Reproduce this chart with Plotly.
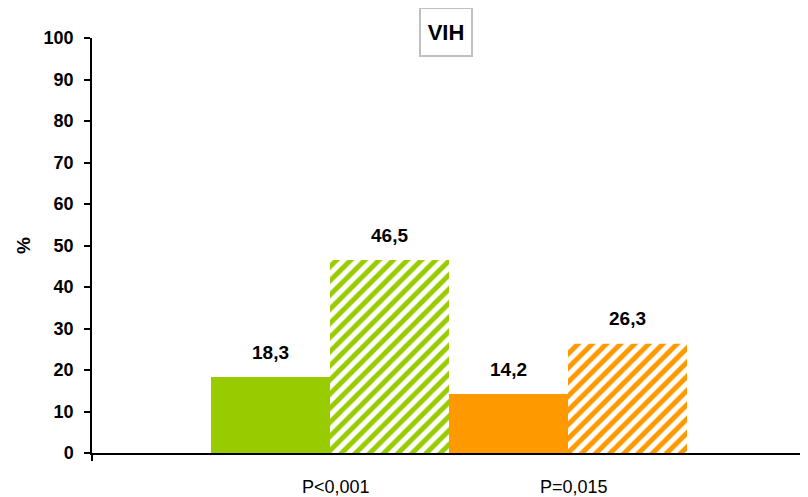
import plotly.graph_objects as go

# Data
category = ["VIH"]
series_names = ["Verde sólido", "Verde rayado", "Naranja sólido", "Naranja rayado"]
values = [18.3, 46.5, 14.2, 26.3]
value_labels = ["18,3", "46,5", "14,2", "26,3"]
group_labels = ["P<0,001", "P=0,015"]
colors = ["#99CC00", "#99CC00", "#FF9900", "#FF9900"]
striped = [False, True, False, True]
y_ticks = list(range(0, 101, 10))

FONT = "Arial, Liberation Sans, sans-serif"
BARGAP = 1 / 3

fig = go.Figure()
for name, v, c, s in zip(series_names, values, colors, striped):
    marker = dict(color=c, line=dict(width=0))
    if s:
        marker = dict(color="white", line=dict(width=0),
                      pattern=dict(shape="/", fgcolor=c, bgcolor="white", fgopacity=1,
                                   size=10, solidity=0.5, fillmode="replace"))
    fig.add_trace(go.Bar(x=category, y=[v], name=name, marker=marker,
                         showlegend=False, hoverinfo="skip"))

n = len(values)
w = (1 - BARGAP) / n
centers = [-(1 - BARGAP) / 2 + (i + 0.5) * w for i in range(n)]

annotations = []
for cx, v, lab in zip(centers, values, value_labels):
    annotations.append(dict(x=cx, y=v, xref="x", yref="y", text=f"<b>{lab}</b>",
                            showarrow=False, yshift=25, yanchor="middle",
                            font=dict(family=FONT, size=19, color="black")))
for gi, lab in enumerate(group_labels):
    gx = (centers[2 * gi] + centers[2 * gi + 1]) / 2
    annotations.append(dict(x=gx, y=0, xref="x", yref="paper", text=lab,
                            showarrow=False, yshift=-34, xshift=6, yanchor="middle",
                            font=dict(family=FONT, size=18, color="black")))
# chart title box
annotations.append(dict(x=0, y=1, xref="x", yref="paper", text="<b>VIH</b>",
                        showarrow=False, yanchor="middle", yshift=6, xshift=-3,
                        font=dict(family=FONT, size=22, color="black"),
                        bordercolor="#C0C0C0", borderwidth=2, borderpad=2,
                        width=46, height=42))
# y-axis title
annotations.append(dict(x=-0.096, y=0.5, xref="paper", yref="paper", text="<b>%</b>",
                        showarrow=False, textangle=-90, xanchor="center", yanchor="middle",
                        font=dict(family=FONT, size=19, color="black")))

fig.update_layout(
    width=800, height=489,
    margin=dict(l=84, r=2, t=30, b=44, autoexpand=False),
    paper_bgcolor="white", plot_bgcolor="white",
    barmode="group", bargap=BARGAP, bargroupgap=0,
    font=dict(family=FONT, color="black"),
    annotations=annotations,
    xaxis=dict(range=[-0.5, 0.5], showticklabels=False, ticks="outside",
               tickson="boundaries", ticklen=6, tickcolor="black", tickwidth=1.5,
               showline=True, linecolor="black", linewidth=1.5, showgrid=False,
               zeroline=False, fixedrange=True, automargin=False),
    yaxis=dict(range=[0, 100], tickvals=y_ticks, ticktext=[f"<b>{t}</b>" for t in y_ticks],
               tickfont=dict(family=FONT, size=18, color="black"),
               ticks="outside", ticklen=6, tickcolor="black", tickwidth=1.5,
               ticklabelstandoff=7,
               showline=True, linecolor="black", linewidth=1.5, showgrid=False,
               zeroline=False, automargin=False),
)

fig.write_html("out.html")
